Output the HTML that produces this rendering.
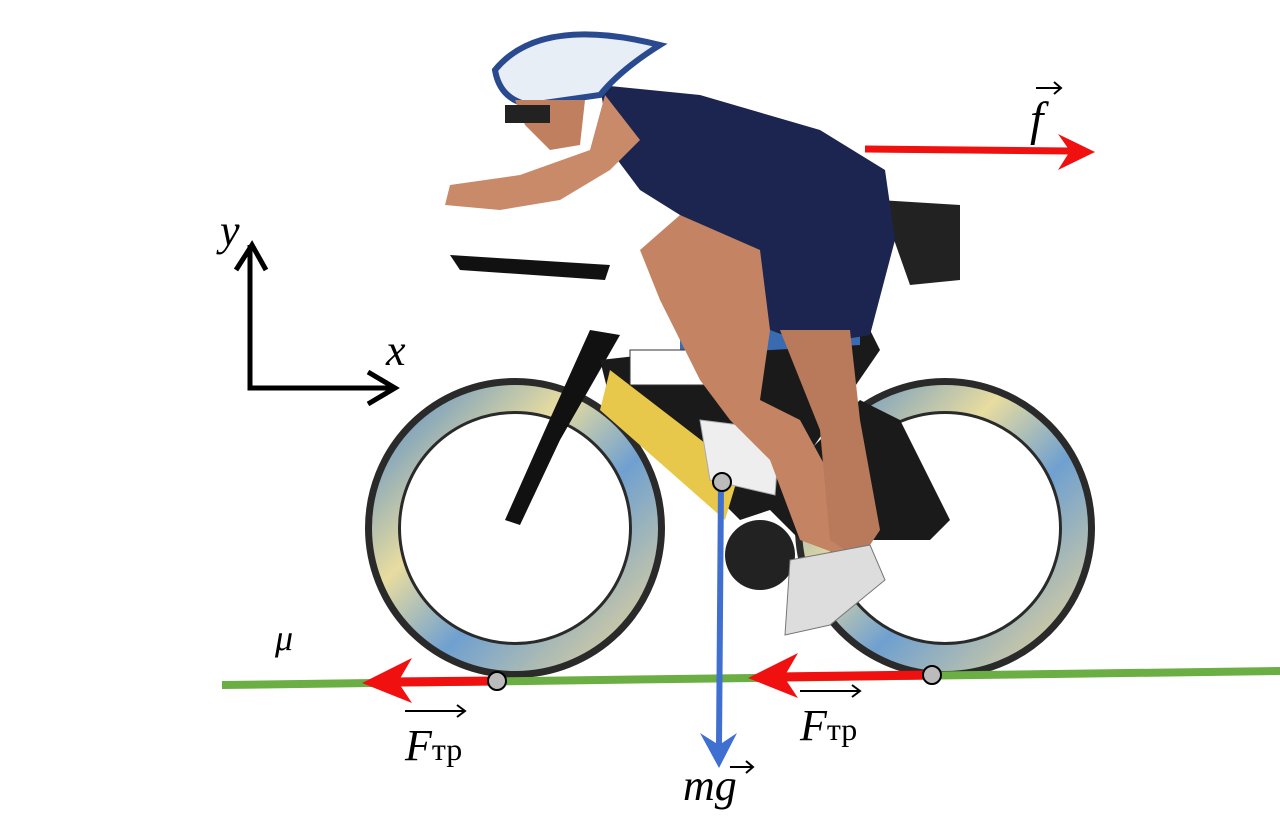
<!DOCTYPE html>
<html><head><meta charset="utf-8"><style>
html,body{margin:0;padding:0;background:#fff;}
svg{display:block;}
text{font-family:"Liberation Serif","DejaVu Serif",serif;font-style:italic;fill:#000;}
</style></head><body>
<svg width="1280" height="828" viewBox="0 0 1280 828">
<defs>
<linearGradient id="wg" x1="0" y1="0" x2="1" y2="1">
<stop offset="0" stop-color="#5a8fc8"/><stop offset="0.35" stop-color="#e8dca0"/><stop offset="0.6" stop-color="#6fa0d0"/><stop offset="1" stop-color="#e6d49a"/></linearGradient>
</defs>
<!-- wheels -->
<g>
<circle cx="515" cy="528" r="132" fill="none" stroke="#2a2a2a" stroke-width="36"/>
<circle cx="515" cy="528" r="130" fill="none" stroke="url(#wg)" stroke-width="26"/>
</g>
<g>
<circle cx="945" cy="528" r="132" fill="none" stroke="#2a2a2a" stroke-width="36"/>
<circle cx="945" cy="528" r="130" fill="none" stroke="url(#wg)" stroke-width="26"/>
</g>
<!-- frame -->
<g>
<polygon points="590,330 620,335 560,440 520,525 505,520 545,430" fill="#111"/>
<polygon points="600,360 870,330 880,350 770,510 740,520 720,500 610,400" fill="#1a1a1a"/>
<polygon points="610,370 740,470 725,520 600,410" fill="#e8c84a"/>
<polygon points="680,330 860,325 860,345 680,355" fill="#3a6ab0"/>
<polygon points="760,500 860,400 900,420 950,520 930,540 800,540" fill="#1a1a1a"/>
<circle cx="760" cy="555" r="35" fill="#222"/>
<rect x="630" y="350" width="88" height="35" fill="#fff" stroke="#333"/>
<polygon points="700,420 780,430 775,495 710,480" fill="#eee" stroke="#aaa"/>
<polygon points="450,255 610,265 605,280 460,270" fill="#111"/>
<polygon points="880,200 960,205 960,280 910,285" fill="#222"/>
</g>
<!-- rider -->
<g>
<polygon points="600,85 700,95 820,130 885,170 895,240 870,335 810,345 770,330 745,260 680,215 640,190 610,150" fill="#1c2550"/>
<polygon points="605,95 590,150 520,175 450,185 445,205 500,210 560,200 610,170 640,140" fill="#c98a6a"/>
<polygon points="640,250 680,215 760,250 770,330 760,400 800,420 860,530 840,555 800,540 770,460 730,420 700,380 660,300" fill="#c48463"/>
<polygon points="780,330 850,330 860,420 880,530 860,560 830,540 820,430" fill="#b87a5a"/>
<polygon points="790,560 870,545 885,580 830,625 785,635" fill="#ddd" stroke="#777"/>
<path d="M495,70 Q540,15 660,45 Q620,70 600,95 L530,105 Q500,100 495,70 Z" fill="#e8eef6" stroke="#2a4a90" stroke-width="6"/>
<polygon points="515,100 585,100 580,145 550,150 525,125" fill="#c08060"/>
<rect x="505" y="105" width="45" height="18" fill="#222"/>
</g>
<!-- ground -->
<line x1="222" y1="685" x2="1280" y2="671" stroke="#6aae44" stroke-width="8"/>
<!-- axes -->
<g stroke="#000" stroke-width="5" fill="none">
<polyline points="250,245 250,388 392,388"/>
<polyline points="236,270 252,245 266,270"/>
<polyline points="368,372 395,388 368,404"/>
</g>
<text x="220" y="245" font-size="44">y</text>
<text x="386" y="365" font-size="44">x</text>
<text x="275" y="650" font-size="36">μ</text>
<!-- force f -->
<g>
<line x1="865" y1="149" x2="1070" y2="151" stroke="#f01010" stroke-width="7"/>
<polygon points="1095,152 1058,134 1070,151 1058,170" fill="#f01010"/>
</g>
<text x="1030" y="135" font-size="48">f</text>
<g stroke="#000" stroke-width="2" fill="none"><line x1="1036" y1="88" x2="1060" y2="88"/><polyline points="1054,82 1061,88 1054,94"/></g>
<!-- friction left -->
<g>
<line x1="497" y1="681" x2="390" y2="682" stroke="#f01010" stroke-width="9"/>
<polygon points="362,683 412,658 398,682 412,703" fill="#f01010"/>
</g>
<g stroke="#000" stroke-width="2" fill="none"><line x1="405" y1="711" x2="465" y2="711"/><polyline points="457,705 465,711 457,717"/></g>
<text x="405" y="760" font-size="44">F<tspan font-style="normal" font-size="32">тр</tspan></text>
<!-- friction right -->
<g>
<line x1="932" y1="675" x2="775" y2="677" stroke="#f01010" stroke-width="9"/>
<polygon points="748,678 798,653 784,677 798,698" fill="#f01010"/>
</g>
<g stroke="#000" stroke-width="2" fill="none"><line x1="800" y1="691" x2="860" y2="691"/><polyline points="852,685 860,691 852,697"/></g>
<text x="800" y="740" font-size="44">F<tspan font-style="normal" font-size="32">тр</tspan></text>
<!-- gravity -->
<g>
<line x1="721" y1="482" x2="719" y2="745" stroke="#3f6fd0" stroke-width="6"/>
<polygon points="719,768 700,733 719,745 737,733" fill="#3f6fd0"/>
</g>
<text x="683" y="800" font-size="44">mg</text>
<g stroke="#000" stroke-width="2" fill="none"><line x1="730" y1="767" x2="752" y2="767"/><polyline points="746,761 753,767 746,773"/></g>
<!-- points -->
<circle cx="497" cy="681" r="9" fill="#bbb" stroke="#000" stroke-width="2"/>
<circle cx="932" cy="675" r="9" fill="#bbb" stroke="#000" stroke-width="2"/>
<circle cx="722" cy="482" r="9" fill="#bbb" stroke="#000" stroke-width="2"/>
</svg>
</body></html>
